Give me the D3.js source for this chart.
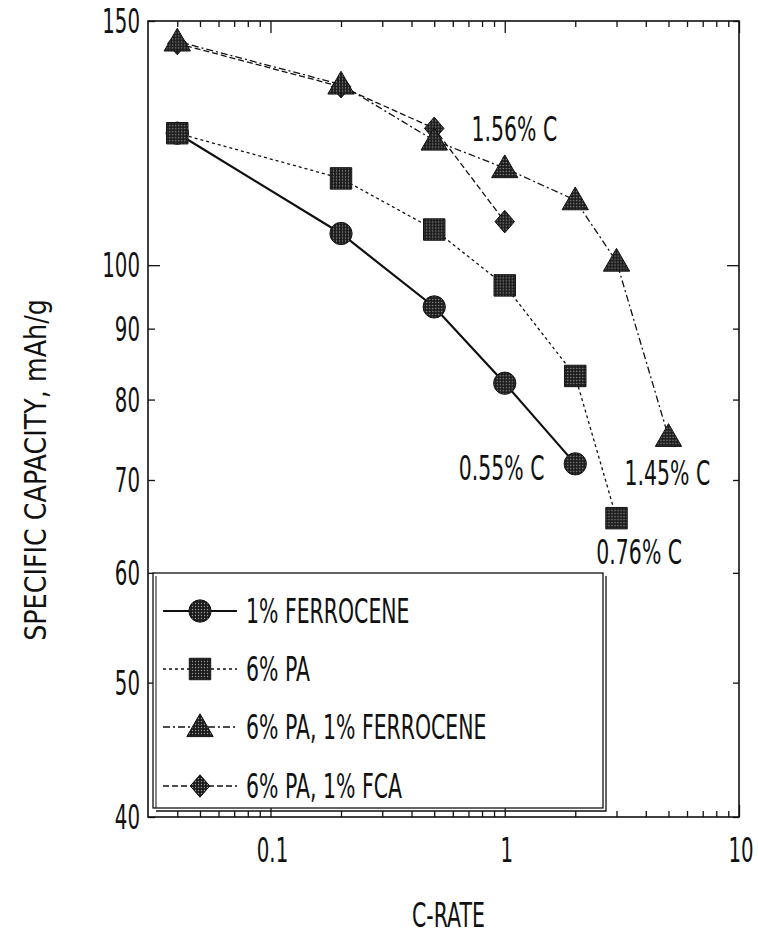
<!DOCTYPE html>
<html>
<head>
<meta charset="utf-8">
<script src="https://cdn.jsdelivr.net/npm/d3@7"></script>
<style>
  html, body { margin: 0; padding: 0; background: #fff; }
  svg { display: block; }
  text { font-family: "DejaVu Sans", sans-serif; fill: #111; }
</style>
</head>
<body>
<div id="chart"></div>
<script>
// C-rate points for each electrode formulation
const cRate = [0.04, 0.2, 0.5, 1, 2, 3, 5];

// Specific capacity (mAh/g) per series
const ferrocene1 = [124.5, 105.4, 93.3, 82.2, 71.9];
const pa6 = [124.5, 115.5, 106.1, 96.7, 83.2, 65.7];
const paFerrocene = [145, 135, 123, 117.5, 111.4, 100.6, 75.2];
const paFca = [144.5, 134.5, 125.5, 107.5];

const seriesNames = ["1% FERROCENE", "6% PA", "6% PA, 1% FERROCENE", "6% PA, 1% FCA"];

// Axis ticks
const xMajorTicks = [0.1, 1, 10];
const xTickLabels = ["0.1", "1", "10"];
const xMinorTicks = [0.04, 0.05, 0.06, 0.07, 0.08, 0.09, 0.2, 0.3, 0.4, 0.5, 0.6, 0.7, 0.8, 0.9, 2, 3, 4, 5, 6, 7, 8, 9];
const yTicks = [40, 50, 60, 70, 80, 90, 100, 150];
const yTickLabels = ["40", "50", "60", "70", "80", "90", "100", "150"];

// Carbon-content notes placed next to the high-rate end of each curve (C-rate, capacity at baseline)
const noteText = ["1.56% C", "0.55% C", "1.45% C", "0.76% C"];
const noteAt = [[1.1, 123], [0.97, 70.0], [4.95, 69.4], [3.75, 60.9]];

const W = 758, H = 943;
const svg = d3.select("#chart").append("svg").attr("width", W).attr("height", H);

const defs = svg.append("defs");
const pat = defs.append("pattern").attr("id", "halftone")
  .attr("patternUnits", "userSpaceOnUse").attr("width", 3).attr("height", 3);
pat.append("rect").attr("width", 3).attr("height", 3).attr("fill", "#1c1c1c");
pat.append("circle").attr("cx", 1.5).attr("cy", 1.5).attr("r", 0.7).attr("fill", "#9a9a9a");

const x = d3.scaleLog().domain([0.03, 10]).range([148, 739]);
const y = d3.scaleLog().domain([40, 150]).range([817, 21]);

// condensed text: scale the glyphs horizontally about the anchor point
function ctext(g, str, px, py, anchor, size, sx, rot) {
  return g.append("text")
    .attr("transform", `translate(${px},${py})${rot ? " rotate(" + rot + ")" : ""} scale(${sx},1)`)
    .attr("text-anchor", anchor)
    .style("font-size", size + "px")
    .text(str);
}

// frame
svg.append("rect").attr("x", x.range()[0]).attr("y", y.range()[1])
  .attr("width", x.range()[1] - x.range()[0]).attr("height", y.range()[0] - y.range()[1])
  .attr("fill", "none").attr("stroke", "#111").attr("stroke-width", 1.6);

// inward ticks on all four sides
function addAxis(axisFn, scale, vals, size, transform) {
  const g = svg.append("g").attr("transform", transform)
    .call(axisFn(scale).tickValues(vals).tickSize(size).tickFormat(""));
  g.select(".domain").remove();
  g.selectAll(".tick line").attr("stroke", "#111").attr("stroke-width", 1.3);
  return g;
}
addAxis(d3.axisBottom, x, xMajorTicks, -12, `translate(0,${y.range()[0]})`);
addAxis(d3.axisBottom, x, xMinorTicks, -6, `translate(0,${y.range()[0]})`);
addAxis(d3.axisTop, x, xMajorTicks, -12, `translate(0,${y.range()[1]})`);
addAxis(d3.axisTop, x, xMinorTicks, -6, `translate(0,${y.range()[1]})`);
addAxis(d3.axisLeft, y, [100], -12, `translate(${x.range()[0]},0)`);
addAxis(d3.axisLeft, y, yTicks.filter(v => v !== 100), -7, `translate(${x.range()[0]},0)`);
addAxis(d3.axisRight, y, [100], -12, `translate(${x.range()[1]},0)`);
addAxis(d3.axisRight, y, yTicks.filter(v => v !== 100), -6, `translate(${x.range()[1]},0)`);

// tick labels
const labels = svg.append("g");
yTicks.forEach((v, i) => ctext(labels, yTickLabels[i], 140, y(v) + 12, "end", 33, 0.6));
xMajorTicks.forEach((v, i) => ctext(labels, xTickLabels[i], x(v) + 2, 862, "middle", 33, 0.6));

// axis titles
ctext(svg, "C-RATE", (x.range()[0] + x.range()[1]) / 2 + 5, 927, "middle", 33, 0.62);
ctext(svg, "SPECIFIC CAPACITY, mAh/g", 46, 470, "middle", 31, 0.82, -90);

// wide diamond (slightly taller than wide)
const wideDiamond = {
  draw(ctx, size) {
    const r = Math.sqrt(size) / 2;
    ctx.moveTo(0, -r * 1.1);
    ctx.lineTo(r * 0.95, 0);
    ctx.lineTo(0, r * 1.1);
    ctx.lineTo(-r * 0.95, 0);
    ctx.closePath();
  }
};

// marker shapes
const sym = {
  circle: d3.symbol().type(d3.symbolCircle).size(390),
  square: d3.symbol().type(d3.symbolSquare).size(460),
  triangle: d3.symbol().type(d3.symbolTriangle).size(300),
  diamond: d3.symbol().type(wideDiamond).size(420)
};

const series = [
  { name: seriesNames[0], values: ferrocene1, shape: "circle", dash: null, width: 2.2 },
  { name: seriesNames[1], values: pa6, shape: "square", dash: "3,3", width: 1.3 },
  { name: seriesNames[3], values: paFca, shape: "diamond", dash: "6,3", width: 1.3 },
  { name: seriesNames[2], values: paFerrocene, shape: "triangle", dash: "7,3,2,3", width: 1.3 }
];

const line = d3.line().x(d => x(d[0])).y(d => y(d[1]));
const plot = svg.append("g");
series.forEach(s => {
  const pts = s.values.map((v, i) => [cRate[i], v]);
  plot.append("path").datum(pts).attr("d", line)
    .attr("fill", "none").attr("stroke", "#111").attr("stroke-width", s.width)
    .attr("stroke-dasharray", s.dash);
});
series.forEach(s => {
  const pts = s.values.map((v, i) => [cRate[i], v]);
  plot.selectAll(null).data(pts).enter().append("path")
    .attr("d", sym[s.shape])
    .attr("transform", d => `translate(${x(d[0])},${y(d[1]) + (s.shape === "triangle" ? 2 : 0)})`)
    .attr("fill", "url(#halftone)").attr("stroke", "#111").attr("stroke-width", 1);
});

// carbon-content notes
noteText.forEach((t, i) => ctext(svg, t, x(noteAt[i][0]), y(noteAt[i][1]), "middle", 33, 0.62));

// legend
const lg = svg.append("g");
const lx = 153, ly = 573, lw = 450, lh = 235;
lg.append("rect").attr("x", lx).attr("y", ly).attr("width", lw).attr("height", lh)
  .attr("fill", "#fff").attr("stroke", "#111").attr("stroke-width", 1.3);
lg.append("path").attr("d", `M${lx + 3},${ly + lh + 3}H${lx + lw + 3}V${ly + 3}`)
  .attr("fill", "none").attr("stroke", "#111").attr("stroke-width", 1.3);
lg.append("path").attr("d", `M${lx + 3},${ly + 3}V${ly + lh}`)
  .attr("fill", "none").attr("stroke", "#111").attr("stroke-width", 1);

const legendOrder = [
  { name: seriesNames[0], shape: "circle", dash: null, width: 2.2 },
  { name: seriesNames[1], shape: "square", dash: "3,3", width: 1.3 },
  { name: seriesNames[2], shape: "triangle", dash: "7,3,2,3", width: 1.3 },
  { name: seriesNames[3], shape: "diamond", dash: "6,3", width: 1.3 }
];
const rowY = [611, 669, 727, 786];
legendOrder.forEach((s, i) => {
  const yy = rowY[i];
  lg.append("line").attr("x1", 163).attr("x2", 237).attr("y1", yy).attr("y2", yy)
    .attr("stroke", "#111").attr("stroke-width", s.width).attr("stroke-dasharray", s.dash);
  lg.append("path").attr("d", sym[s.shape])
    .attr("transform", `translate(200,${yy + (s.shape === "triangle" ? 2 : 0)})`)
    .attr("fill", "url(#halftone)").attr("stroke", "#111").attr("stroke-width", 1);
  ctext(lg, s.name, 246, yy + 12, "start", 33, 0.62);
});
</script>
</body>
</html>
